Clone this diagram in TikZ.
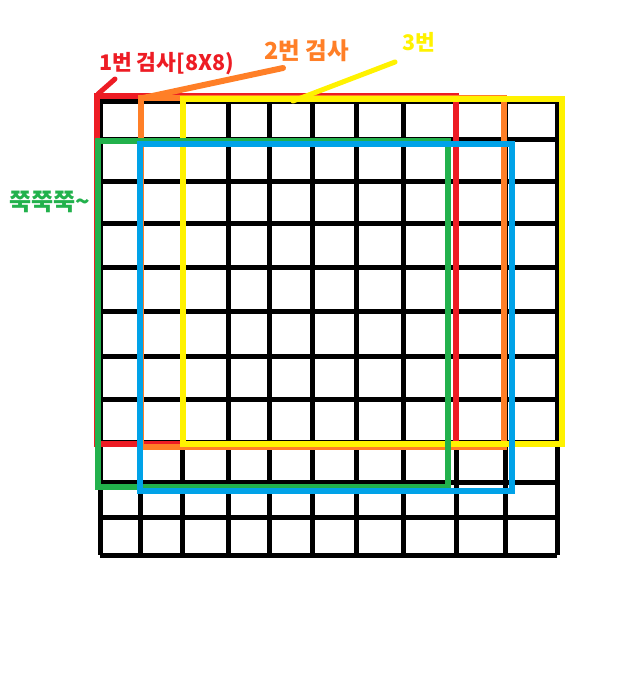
\documentclass[tikz,border=0pt]{standalone}
\usepackage{fontspec}
\newfontfamily\krfont{Noto Sans CJK KR}
\definecolor{pred}{RGB}{237,28,36}
\definecolor{porange}{RGB}{255,127,39}
\definecolor{pyellow}{RGB}{255,242,0}
\definecolor{pgreen}{RGB}{34,177,76}
\definecolor{pblue}{RGB}{0,162,232}
\tikzset{
  gridline/.style={line width=5pt, black},
  scanbox/.style={line width=5.5pt, line join=miter},
  lbl/.style={font=\krfont\bfseries, inner sep=0pt},
  pointer/.style={line width=5pt, line cap=round}
}
\begin{document}
\begin{tikzpicture}[x=1pt,y=-1pt]
\useasboundingbox (0,0) rectangle (636,696);
% grid
\foreach \x in {100,140,182,228,269,312,356,403,456,505,557}
  \draw[gridline] (\x,101) -- (\x,555);
\foreach \y in {101,139,181,223,267,311,356,399,442,482,517,555}
  \draw[gridline] (100,\y) -- (557,\y);
% scan windows
\draw[scanbox, pred] (97,96) rectangle (456,444);
\draw[scanbox, porange] (141,98) rectangle (504,447);
\draw[scanbox, pyellow] (183,99) rectangle (562,444);
\draw[scanbox, pgreen] (98,141) rectangle (448,487);
\draw[scanbox, pblue] (140,144) rectangle (512,491);
% labels
\node[lbl, text=pred, anchor=west, font=\krfont\bfseries\fontsize{21.5}{21.5}\selectfont] (l1) at (99,64) {1번 검사[8X8)};
\node[lbl, text=porange, anchor=west, font=\krfont\bfseries\fontsize{23.5}{23.5}\selectfont] (l2) at (264,51) {2번 검사};
\node[lbl, text=pyellow, anchor=west, font=\krfont\bfseries\fontsize{21.5}{21.5}\selectfont] (l3) at (402,42) {3번};
\node[lbl, text=pgreen, anchor=west, font=\krfont\bfseries\fontsize{24}{24}\selectfont] (l4) at (9,202) {쭉쭉쭉\textasciitilde};
% pointers
\coordinate (r1) at (98,94);
\coordinate (r2) at (115,79);
\coordinate (o1) at (143,98);
\coordinate (o2) at (283,68);
\coordinate (y1) at (293,101);
\coordinate (y2) at (395,62);
\draw[pointer, pred] (r1) -- (r2);
\draw[pointer, porange, line width=6pt] (o1) -- (o2);
\draw[pointer, pyellow] (y1) -- (y2);
\end{tikzpicture}
\end{document}
